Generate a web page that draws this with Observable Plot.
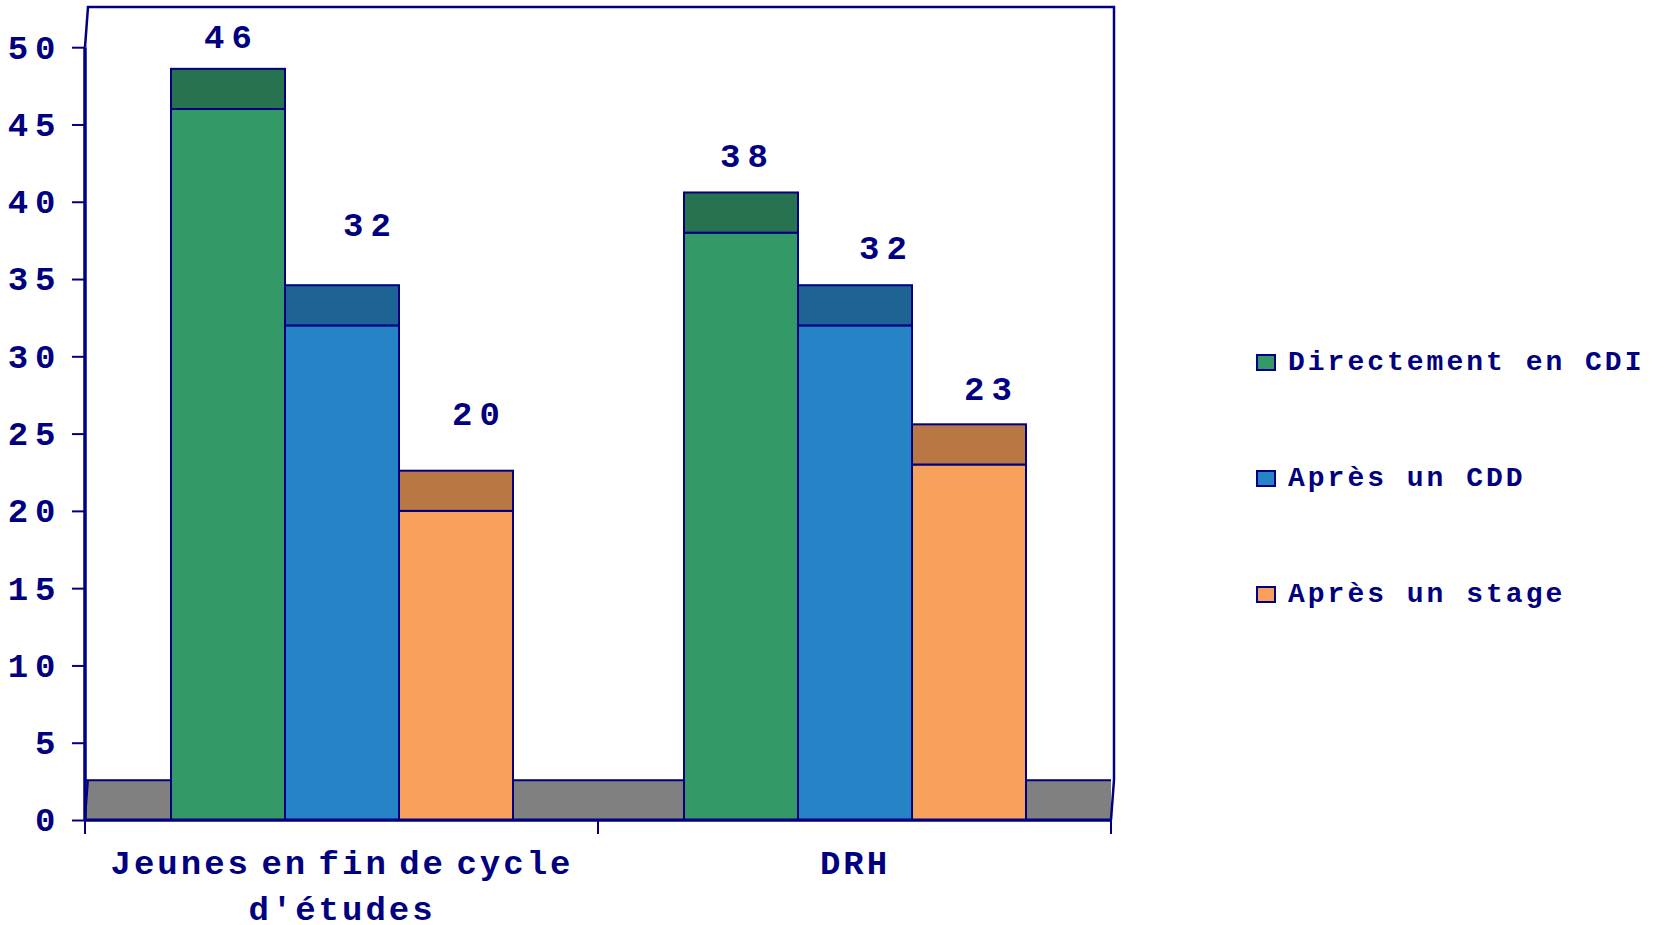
<!DOCTYPE html>
<html>
<head>
<meta charset="utf-8">
<script src="https://cdn.jsdelivr.net/npm/d3@7"></script>
<script src="https://cdn.jsdelivr.net/npm/@observablehq/plot@0.6"></script>
<style>
  html, body { margin: 0; padding: 0; background: #fff; }
  #wrap { position: relative; width: 1664px; height: 925px; overflow: hidden; }
  g[aria-label="y-axis tick label"] text { letter-spacing: 7px; }
  text[aria-label="value-label"], g[aria-label="value-label"] text { letter-spacing: 7px; }
  text[aria-label="group-label"], g[aria-label="group-label"] text { letter-spacing: 3px; word-spacing: -13px; }
  .legend { position: absolute; left: 1256px; top: 0; font-family: "Liberation Mono", monospace; font-weight: bold; font-size: 28px; color: #000080; letter-spacing: 3px; }
  .legend .row { position: absolute; left: 0; height: 30px; display: flex; align-items: center; white-space: nowrap; }
  .legend .sw { width: 16px; height: 13px; border: 2px solid #000080; margin-right: 12px; flex: none; }
</style>
</head>
<body>
<div id="wrap"></div>
<script>
// ---- data ----
const groups = ["Jeunes en fin de cycle d'études", "DRH"];
const groupLabels = ["Jeunes en fin de cycle\nd'études", "DRH"];
const series = ["Directement en CDI", "Après un CDD", "Après un stage"];
const valuesJeunes = [46, 32, 20];
const valuesDRH = [38, 32, 23];
const yTicks = [0, 5, 10, 15, 20, 25, 30, 35, 40, 45, 50];

// ---- style ----
const navy = "#000080";
const frontColors = ["#339966", "#2683C6", "#F8A15C"];
const capColors = ["#277350", "#1D6495", "#B97743"];
const floorColor = "#808080";
const depth = 2.6;      // 3D depth of the chart, in y units
const skew = 3;         // horizontal 3D shift in px
const font = "Liberation Mono, Courier New, monospace";
// label nudges (px) as placed in the original
const nudges = {
  "0|0": [0, -32], "0|1": [25, -61], "0|2": [20, -57],
  "1|0": [3, -37], "1|1": [28, -38], "1|2": [19, -36]
};

const rows = [];
series.forEach((s, i) => {
  rows.push({group: groups[0], gi: 0, series: s, si: i, value: valuesJeunes[i]});
  rows.push({group: groups[1], gi: 1, series: s, si: i, value: valuesDRH[i]});
});

const valueLabels = rows.map(r => {
  const [dx, dy] = nudges[r.gi + "|" + r.si];
  return Plot.text([r], {
    fx: "group", x: "series", y: d => d.value + depth,
    text: d => String(d.value), dx: dx + 3, dy,
    fill: navy, fontSize: 34, fontWeight: "bold", fontFamily: font,
    ariaLabel: () => "value-label"
  });
});

const plot = Plot.plot({
  width: 1664,
  height: 925,
  marginLeft: 85,
  marginRight: 553,
  marginTop: 7,
  marginBottom: 105,
  fx: {domain: groups, padding: 0, axis: null, label: null},
  x: {domain: series, paddingInner: 0, paddingOuter: 0.75, axis: null, label: null},
  y: {domain: [0, 50 + depth], axis: null, label: null},
  color: {type: "identity"},
  style: {background: "#fff", color: navy, overflow: "visible"},
  marks: [
    // floor slab
    Plot.barY([0], {y1: 0, y2: depth, fill: floorColor}),
    Plot.ruleY([0, depth], {stroke: navy, strokeWidth: 2}),
    // front faces
    Plot.barY(rows, {fx: "group", x: "series", y1: 0, y2: "value",
      fill: d => frontColors[d.si], stroke: navy, strokeWidth: 2}),
    // top caps (3D depth)
    Plot.barY(rows, {fx: "group", x: "series", y1: "value", y2: d => d.value + depth,
      fill: d => capColors[d.si], stroke: navy, strokeWidth: 2}),
    ...valueLabels,
    // y axis
    Plot.axisY({ticks: yTicks, tickSize: 13, tickPadding: 10, stroke: navy, strokeWidth: 2,
      fill: navy, fontSize: 34, fontWeight: "bold", fontFamily: font, label: null, tickFormat: d => String(d)}),
    // group labels
    Plot.text(groups.map((g, i) => ({group: g, label: groupLabels[i]})), {
      fx: "group", frameAnchor: "bottom", text: "label", lineAnchor: "top",
      dy: 20, lineHeight: 1.37, fill: navy, fontSize: 34, fontWeight: "bold", fontFamily: font,
      ariaLabel: () => "group-label"
    })
  ]
});

document.getElementById("wrap").appendChild(plot);

// ---- chart frame (walls, axis line, category ticks) from the plot's scales ----
const fxS = plot.scale("fx"), yS = plot.scale("y");
const left = fxS.apply(groups[0]);
const right = fxS.apply(groups[groups.length - 1]) + fxS.bandwidth;
const y0 = yS.apply(0), yFloor = yS.apply(depth), yTop = yS.apply(50 + depth), y50 = yS.apply(50);
const svg = d3.select(plot);
const g = svg.append("g").attr("fill", "none").attr("stroke", navy).attr("stroke-linejoin", "miter");
// back wall
g.append("path").attr("stroke-width", 2.5)
  .attr("d", `M${left},${y50}L${left + skew},${yTop}L${right + skew},${yTop}L${right + skew},${yFloor}L${right},${y0}`);
// floor left edge
g.append("path").attr("stroke-width", 2).attr("d", `M${left + skew},${yFloor}L${left},${y0}`);
// value axis line
g.append("path").attr("stroke-width", 3.5).attr("d", `M${left},${y0}L${left},${y50}`);
// category axis baseline
g.append("path").attr("stroke-width", 3).attr("d", `M${left},${y0}L${right},${y0}`);
// category boundary ticks
const bounds = groups.map(d => fxS.apply(d)).concat([right]);
bounds.forEach(x => g.append("path").attr("stroke-width", 2).attr("d", `M${x},${y0}L${x},${y0 + 14}`));

// ---- legend ----
const legend = d3.select("#wrap").append("div").attr("class", "legend");
const rowCenters = [362, 478, 594];
series.forEach((s, i) => {
  const row = legend.append("div").attr("class", "row").style("top", (rowCenters[i] - 15) + "px");
  row.append("div").attr("class", "sw").style("background", frontColors[i]);
  row.append("span").text(s);
});
</script>
</body>
</html>
